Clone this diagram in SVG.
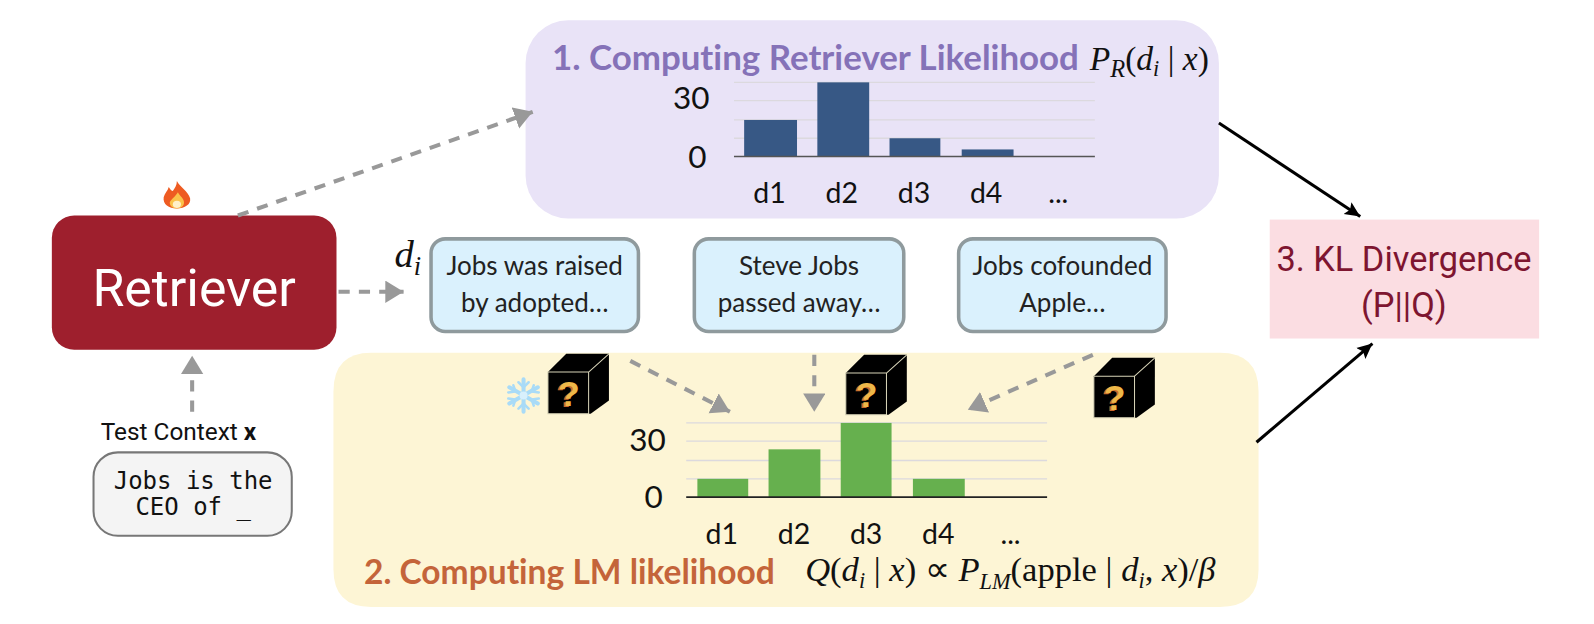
<svg xmlns="http://www.w3.org/2000/svg" xmlns:xlink="http://www.w3.org/1999/xlink" width="1594" height="624" viewBox="0 0 1594 624">
<style>
text{font-family:"Lato","Liberation Sans",sans-serif;font-variant-ligatures:none}
.tick{font-size:28px;fill:#111;text-anchor:middle;font-family:"Lato","Liberation Sans",sans-serif}
.num{font-size:31px}
.grid{stroke:#dcd9de;stroke-width:1.3}
.axis{stroke:#555;stroke-width:1.6}
.b1{fill:#375885}
.b2{fill:#66b04e}
.doc rect{fill:#daf1fd;stroke:#8f9a9d;stroke-width:3.5}
.doc text{font-size:25.6px;fill:#222;text-anchor:middle;font-family:"Lato","Liberation Sans",sans-serif}
.math{font-family:"Liberation Serif",serif;fill:#111;font-size:34px}
.i{font-style:italic}
.dash{fill:none;stroke:#999;stroke-width:4;stroke-dasharray:11 9;marker-end:url(#g)}
.solid{fill:none;stroke:#000;stroke-width:3;marker-end:url(#k)}
.rb{font-family:Roboto,"Liberation Sans",sans-serif}
</style>
<defs>
<marker id="g" markerUnits="userSpaceOnUse" markerWidth="22" markerHeight="24" refX="18" refY="11" orient="auto"><path d="M0 0L18 11L0 22Z" fill="#999"/></marker>
<marker id="k" markerUnits="userSpaceOnUse" markerWidth="18" markerHeight="18" refX="15" refY="8" orient="auto"><path d="M0 1L15 8L0 15L3 8Z" fill="#000"/></marker>
<g id="cube">
<path d="M18 0H60V46L42 59H0V18Z" fill="#000"/>
<path d="M0 18H40V59H0ZM40 18L60 0" fill="none" stroke="#d8d4b8" stroke-width="1"/>
<text x="18.5" y="52" font-size="35" font-weight="700" fill="#c8682c" text-anchor="middle" style="font-family:'Liberation Sans',sans-serif">?</text>
<text x="20.5" y="51" font-size="35" font-weight="700" fill="#eeb849" text-anchor="middle" style="font-family:'Liberation Sans',sans-serif">?</text>
</g>
</defs>
<rect width="1594" height="624" fill="#fff"/>
<g transform="scale(1.0166)">

<g id="likelihood-retriever">
<rect x="517" y="20" width="682" height="195" rx="42" fill="#e9e3f7"/>
<text x="543" y="69" font-size="34.3" font-weight="700" fill="#8572b8">1. Computing Retriever Likelihood</text>
<text class="math" x="1072" y="69" style="font-size:33px"><tspan class="i">P</tspan><tspan class="i" font-size="24" dy="7">R</tspan><tspan dy="-7">(</tspan><tspan class="i">d</tspan><tspan class="i" font-size="22" dy="6">i</tspan><tspan dy="-6"> | </tspan><tspan class="i">x</tspan>)</text>
<path class="grid" d="M722 81H1077M722 99H1077M722 118H1077M722 136H1077"/>
<rect class="b1" x="732" y="118" width="52" height="36"/>
<rect class="b1" x="804" y="81" width="51" height="73"/>
<rect class="b1" x="875" y="136" width="50" height="18"/>
<rect class="b1" x="946" y="147" width="51" height="7"/>
<path class="axis" d="M722 154H1077"/>
<text class="tick num" x="680" y="107">30</text><text class="tick num" x="686" y="165">0</text>
<text class="tick" x="757" y="200">d1</text><text class="tick" x="828" y="200">d2</text><text class="tick" x="899" y="200">d3</text><text class="tick" x="970" y="200">d4</text><text class="tick" x="1041" y="200">...</text>
</g>

<g id="likelihood-lm">
<path d="M365 347H1200Q1238 347 1238 385V560Q1238 597 1200 597H365Q328 597 328 560V385Q328 347 365 347Z" fill="#fdf5d5"/>
<path class="grid" d="M675 416H1030M675 434H1030M675 453H1030M675 471H1030"/>
<rect class="b2" x="686" y="471" width="50" height="18"/>
<rect class="b2" x="756" y="442" width="51" height="47"/>
<rect class="b2" x="827" y="416" width="50" height="73"/>
<rect class="b2" x="898" y="471" width="51" height="18"/>
<path d="M675 489H1030" stroke="#222" stroke-width="1.6"/>
<text class="tick num" x="637" y="444">30</text><text class="tick num" x="643" y="500">0</text>
<text class="tick" x="710" y="535">d1</text><text class="tick" x="781" y="535">d2</text><text class="tick" x="852" y="535">d3</text><text class="tick" x="923" y="535">d4</text><text class="tick" x="994" y="535">...</text>
<text x="358" y="574" font-size="33" font-weight="700" fill="#c4643a">2. Computing LM likelihood</text>
<text class="math" x="792" y="572"><tspan class="i">Q</tspan>(<tspan class="i">d</tspan><tspan class="i" font-size="22" dy="6">i</tspan><tspan dy="-6"> | </tspan><tspan class="i">x</tspan>) ∝ <tspan class="i">P</tspan><tspan class="i" font-size="22" dy="7">LM</tspan><tspan dy="-7">(apple | </tspan><tspan class="i">d</tspan><tspan class="i" font-size="22" dy="6">i</tspan><tspan dy="-6">, </tspan><tspan class="i">x</tspan>)/<tspan class="i">β</tspan></text>
</g>

<g id="cube-1"><use xlink:href="#cube" href="#cube" x="539" y="348"/></g>
<g id="cube-2"><use xlink:href="#cube" href="#cube" x="832" y="349"/></g>
<g id="cube-3"><use xlink:href="#cube" href="#cube" x="1076" y="352"/></g>

<g id="snowflake" stroke="#a9dbf7" stroke-width="4" stroke-linecap="round" fill="none">
<path d="M515 373V405M501 381L529 397M501 397L529 381"/>
<path stroke-width="2.5" d="M510 376L515 381L520 376M510 402L515 397L520 402M500 386L507 385L505 379M530 392L523 393L525 399M500 392L507 393L505 399M530 386L523 385L525 379"/>
<circle cx="515" cy="389" r="4" fill="#d8f0fc" stroke="none"/>
</g>

<g id="flame">
<path d="M174 178C177 184 185 188 187 195C188 201 182 205 174 205C166 205 160 201 161 194C162 190 165 188 166 184C168 187 169 188 170 188C172 185 174 182 174 178Z" fill="#ee5b22"/>
<path d="M175 189C177 193 181 195 181 199C181 203 178 205 174 205C170 205 167 203 167 199C168 196 172 194 175 189Z" fill="#fbc24a"/>
<ellipse cx="174" cy="201" rx="4" ry="3.5" fill="#fff0c9"/>
</g>

<g id="retriever">
<rect x="51" y="212" width="280" height="132" rx="22" fill="#9e1f2d"/>
<text class="rb" x="191" y="301" font-size="51" fill="#fff" text-anchor="middle">Retriever</text>
</g>

<g id="di-label"><text class="math" x="388" y="263" style="font-size:38px"><tspan class="i">d</tspan><tspan class="i" style="font-size:26px" dy="8">i</tspan></text></g>

<g id="doc-1" class="doc"><rect x="424" y="235" width="204" height="91" rx="14"/><text x="526" y="271">Jobs was raised</text><text x="526" y="307">by adopted…</text></g>
<g id="doc-2" class="doc"><rect x="683" y="235" width="206" height="91" rx="14"/><text x="786" y="271">Steve Jobs</text><text x="786" y="307">passed away…</text></g>
<g id="doc-3" class="doc"><rect x="943" y="235" width="204" height="91" rx="14"/><text x="1045" y="271">Jobs cofounded</text><text x="1045" y="307">Apple…</text></g>

<g id="kl">
<rect x="1249" y="216" width="265" height="117" fill="#fbdde2"/>
<text class="rb" x="1381" y="267" font-size="33.8" fill="#7e1530" text-anchor="middle">3. KL Divergence</text>
<text class="rb" x="1381" y="312" font-size="33.8" fill="#7e1530" text-anchor="middle">(P||Q)</text>
</g>

<g id="test-context">
<text class="rb" x="99" y="433" font-size="24" fill="#111">Test Context <tspan font-weight="700">x</tspan></text>
<rect x="92" y="445" width="195" height="82" rx="24" fill="#f4f4f4" stroke="#777" stroke-width="2"/>
<text x="190" y="481" font-size="23.6" fill="#111" text-anchor="middle" style="font-family:'DejaVu Sans Mono','Liberation Mono',monospace">Jobs is the</text>
<text x="190" y="507" font-size="23.6" fill="#111" text-anchor="middle" style="font-family:'DejaVu Sans Mono','Liberation Mono',monospace">CEO of _</text>
</g>

<g id="connectors">
<path class="dash" d="M234 212L524 110"/>
<path class="dash" d="M333 287H397"/>
<path class="dash" d="M189 405V350"/>
<path class="dash" d="M620 355L718 405"/>
<path class="dash" d="M801 349V405"/>
<path class="dash" d="M1075 349L952 403"/>
<path class="solid" d="M1199 121L1338 213"/>
<path class="solid" d="M1236 435L1350 338"/>
</g>
</g>
</svg>
